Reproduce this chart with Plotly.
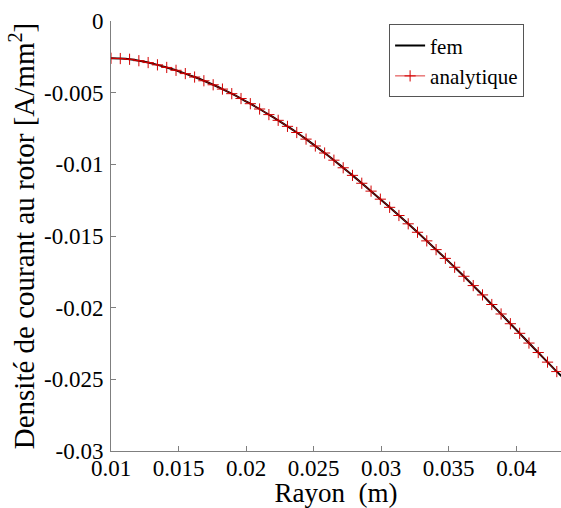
import plotly.graph_objects as go

# Radius sample positions (m) of the analytical solution
rayon = [0.01, 0.010688, 0.011375, 0.012063, 0.01275, 0.013438, 0.014125,
         0.014813, 0.0155, 0.016188, 0.016875, 0.017563, 0.01825, 0.018938,
         0.019625, 0.020313, 0.021, 0.021688, 0.022375, 0.023063, 0.02375,
         0.024438, 0.025125, 0.025813, 0.0265, 0.027188, 0.027875, 0.028563,
         0.02925, 0.029938, 0.030625, 0.031313, 0.032, 0.032688, 0.033375,
         0.034063, 0.03475, 0.035438, 0.036125, 0.036813, 0.0375, 0.038188,
         0.038875, 0.039563, 0.04025, 0.040938, 0.041625, 0.042313, 0.043]

# Current density (A/mm^2)
densite = [-0.00260, -0.00262, -0.00267, -0.00277, -0.00290, -0.00306, -0.00324,
           -0.00344, -0.00367, -0.00391, -0.00417, -0.00445, -0.00475, -0.00507,
           -0.00541, -0.00577, -0.00614, -0.00653, -0.00693, -0.00735, -0.00778,
           -0.00824, -0.00872, -0.00921, -0.00971, -0.01024, -0.01077, -0.01132,
           -0.01187, -0.01243, -0.01300, -0.01357, -0.01415, -0.01474, -0.01534,
           -0.01595, -0.01656, -0.01718, -0.01781, -0.01846, -0.01911, -0.01978,
           -0.02044, -0.02112, -0.02179, -0.02247, -0.02313, -0.02380, -0.02446]

# FEM curve runs up to the right edge of the axes
fem_rayon = rayon + [0.04335]
fem_densite = densite + [-0.02478]

x_ticks = [0.01, 0.015, 0.02, 0.025, 0.03, 0.035, 0.04]
x_ticklabels = ["0.01", "0.015", "0.02", "0.025", "0.03", "0.035", "0.04"]
y_ticks = [-0.03, -0.025, -0.02, -0.015, -0.01, -0.005, 0]
y_ticklabels = ["-0.03", "-0.025", "-0.02", "-0.015", "-0.01", "-0.005", "0"]

FONT = "Liberation Serif"
TICKFONT = dict(family=FONT, size=23, color="black")
XTITLEFONT = dict(family=FONT, size=27, color="black")
YTITLEFONT = dict(family=FONT, size=29, color="black")

fig = go.Figure()
fig.add_trace(go.Scatter(
    x=fem_rayon, y=fem_densite, mode="lines", name="fem",
    line=dict(color="black", width=2, shape="spline"),
))
fig.add_trace(go.Scatter(
    x=rayon, y=densite, mode="lines+markers", name="analytique",
    line=dict(color="#d40000", width=0.8, shape="spline"),
    marker=dict(symbol="cross-thin", size=8, color="#d40000",
                line=dict(color="#d40000", width=1)),
))

fig.update_layout(
    template="none",
    width=561, height=508,
    margin=dict(l=111, r=0, t=21, b=57, pad=0),
    paper_bgcolor="white", plot_bgcolor="white",
    font=dict(family=FONT, size=23, color="black"),
    showlegend=True,
    xaxis=dict(
        range=[0.01, 0.04331], tickmode="array", tickvals=x_ticks,
        ticktext=x_ticklabels, ticklabelstandoff=-4,
        showline=True, linecolor="#7f7f7f", linewidth=1,
        ticks="inside", ticklen=5, tickcolor="#7f7f7f", tickwidth=1,
        showgrid=False, zeroline=False, mirror=False,
        tickfont=TICKFONT,
        title=dict(text="Rayon  (m)", font=XTITLEFONT, standoff=0),
    ),
    yaxis=dict(
        range=[-0.03, 0], tickmode="array", tickvals=y_ticks,
        ticktext=y_ticklabels, ticklabelstandoff=2,
        showline=True, linecolor="#7f7f7f", linewidth=1,
        ticks="inside", ticklen=5, tickcolor="#7f7f7f", tickwidth=1,
        showgrid=False, zeroline=False, mirror=False,
        tickfont=TICKFONT,
        title=dict(text="Densité de courant au rotor [A/mm<sup>2</sup>]",
                   font=YTITLEFONT, standoff=0),
    ),
    legend=dict(
        x=0.918, xanchor="right", y=0.992, yanchor="top",
        bgcolor="white", bordercolor="#555555", borderwidth=1,
        font=dict(family=FONT, size=21, color="black"),
        tracegroupgap=0, itemwidth=30,
    ),
)

fig.write_html("out.html")
